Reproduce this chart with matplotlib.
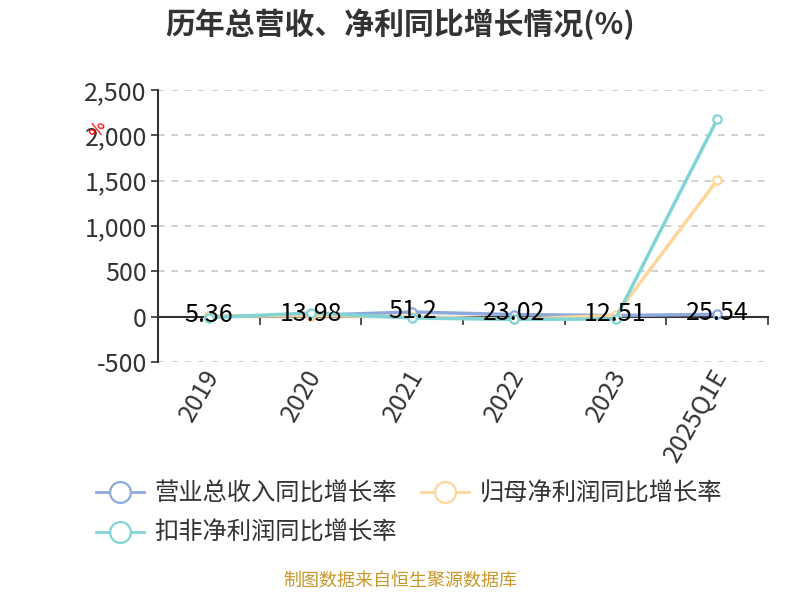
import matplotlib
matplotlib.use("Agg")
import matplotlib.pyplot as plt
from matplotlib.lines import Line2D
from matplotlib.ticker import FuncFormatter

plt.rcParams['font.family'] = ['Noto Sans CJK SC', 'DejaVu Sans']

# data
years = ['2019', '2020', '2021', '2022', '2023', '2025Q1E']
revenue_growth = [5.36, 13.98, 51.2, 23.02, 12.51, 25.54]
net_profit_growth = [5, 10, 0, -30, 15, 1505]
deducted_profit_growth = [-10, 40, -15, -30, -25, 2175]
series_names = ['营业总收入同比增长率', '归母净利润同比增长率', '扣非净利润同比增长率']
y_ticks = [-500, 0, 500, 1000, 1500, 2000, 2500]

colors = ['#8eaadd', '#fdd79a', '#80d4d6']
text_color = '#333333'

fig = plt.figure(figsize=(8, 6), dpi=100)
ax = fig.add_axes([0.1975, 0.3967, 0.7625, 0.4533])

x = list(range(len(years)))
all_series = [revenue_growth, net_profit_growth, deducted_profit_growth]
for vals, c in zip(all_series, colors):
    ax.plot(x, vals, color=c, linewidth=2.5, marker='o', markersize=6,
            markerfacecolor='white', markeredgecolor=c, markeredgewidth=1.6,
            zorder=3)

# labels on the revenue series
for xi, v in zip(x, revenue_growth):
    ax.annotate(f'{v:g}', (xi, v), xytext=(0, 1), textcoords='offset points',
                ha='center', va='center', fontsize=18, color='black', zorder=5)

ax.set_xlim(-0.5, len(years) - 0.5)
ax.set_ylim(-500, 2500)
ax.set_yticks(y_ticks)
ax.yaxis.set_major_formatter(FuncFormatter(lambda v, p: f'{int(v):,}'))
ax.tick_params(axis='y', labelsize=18, labelcolor=text_color, length=5,
               width=1.2, color=text_color, pad=3)
ax.grid(axis='y', linestyle=(0, (4, 4)), color='#c8c8c8', linewidth=1.2)
ax.set_axisbelow(True)

for s in ['top', 'right']:
    ax.spines[s].set_visible(False)
ax.spines['left'].set_color(text_color)
ax.spines['left'].set_linewidth(1.5)
ax.spines['bottom'].set_position(('data', 0))
ax.spines['bottom'].set_color(text_color)
ax.spines['bottom'].set_linewidth(1.5)

# ticks at category boundaries on the zero line
ax.set_xticks([i + 0.5 for i in x], minor=True)
ax.tick_params(axis='x', which='minor', length=6, width=1.2, color=text_color,
               direction='out')
ax.set_xticks(x)
ax.set_xticklabels([])
ax.tick_params(axis='x', which='major', length=0)
for xi, lab in zip(x, years):
    ax.text(xi + 0.05, -600, lab, rotation=60, rotation_mode='anchor',
            ha='right', va='center', fontsize=18, color=text_color,
            transform=ax.transData, clip_on=False)

fig.text(0.5, 0.96, '历年总营收、净利同比增长情况(%)', ha='center', va='center',
         fontsize=21.5, fontweight='bold', color=text_color)
fig.text(0.122, 0.785, '%', rotation=70, ha='center', va='center', fontsize=12,
         color='red', family='DejaVu Sans')

handles = [Line2D([0], [0], color=c, linewidth=2, marker='o', markersize=15,
                  markerfacecolor='white', markeredgecolor=c,
                  markeredgewidth=1.6) for c in colors]
order = [0, 2, 1]
fig.legend([handles[i] for i in order], [series_names[i] for i in order],
           loc='upper left', bbox_to_anchor=(0.108, 0.215),
           ncol=2, frameon=False, fontsize=17.5, labelcolor=text_color,
           handlelength=1.95, handletextpad=0.45, columnspacing=1.0,
           labelspacing=0.55, borderaxespad=0)
fig.text(0.5, 0.018, '制图数据来自恒生聚源数据库', ha='center', va='bottom',
         fontsize=13, color='#c8962a')

fig.savefig('out.png', dpi=100)
